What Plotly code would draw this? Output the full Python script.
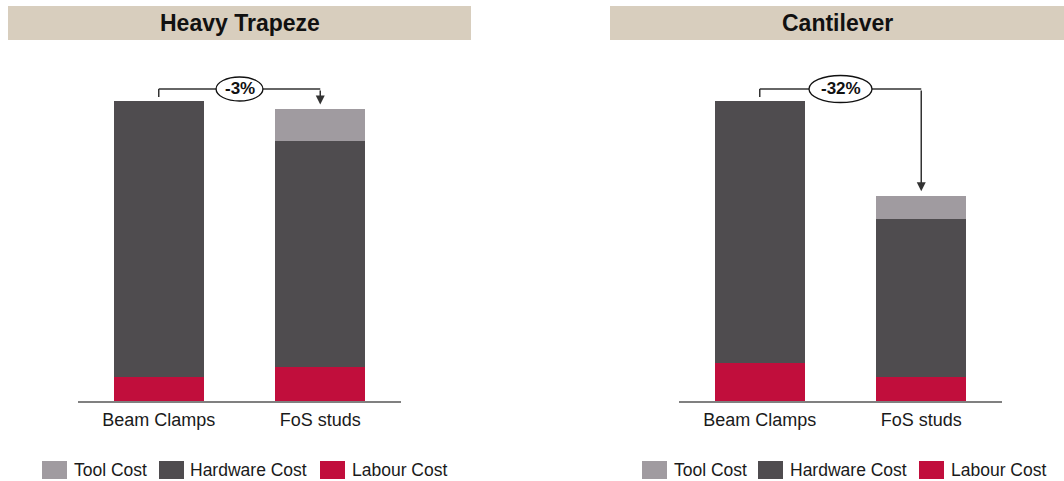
import plotly.graph_objects as go

# ---- data -------------------------------------------------------------
categories = ["Beam Clamps", "FoS studs"]
series_names = ["Tool Cost", "Hardware Cost", "Labour Cost"]
series_colors = ["#a09ba0", "#4f4c4f", "#c10e3c"]
panel_titles = ["Heavy Trapeze", "Cantilever"]

# indexed cost, Beam Clamps total = 100
trapeze_tool = [0.0, 10.7]
trapeze_hardware = [92.0, 75.3]
trapeze_labour = [8.0, 11.3]

cantilever_tool = [0.0, 7.7]
cantilever_hardware = [87.3, 52.7]
cantilever_labour = [12.7, 8.0]

# ---- layout helpers ----------------------------------------------------
W, H = 1064, 481
FONT = "Liberation Sans, Arial, sans-serif"
LINE = "#333333"


def fx(p):
    return p / W


def fy(p):
    return 1 - p / H


panels = [
    dict(title=panel_titles[0], tool=trapeze_tool, hw=trapeze_hardware,
         lab=trapeze_labour, xa="x", ya="y", dom=(78, 401),
         band=(8, 471), legend_sq=(42, 159, 320), legend_tx=(72, 188, 350)),
    dict(title=panel_titles[1], tool=cantilever_tool, hw=cantilever_hardware,
         lab=cantilever_labour, xa="x2", ya="y2", dom=(679, 1002),
         band=(610, 1064), legend_sq=(642, 758, 919), legend_tx=(672, 788, 949)),
]

fig = go.Figure()
shapes = []
annotations = []

for p in panels:
    stacks = [p["lab"], p["hw"], p["tool"]]
    names = [series_names[2], series_names[1], series_names[0]]
    colors = [series_colors[2], series_colors[1], series_colors[0]]
    for vals, name, col in zip(stacks, names, colors):
        fig.add_trace(go.Bar(
            x=categories, y=vals, name=name, xaxis=p["xa"], yaxis=p["ya"],
            marker=dict(color=col, line=dict(width=0)), showlegend=False,
            hoverinfo="skip",
        ))

    totals = [a + b + c for a, b, c in zip(p["lab"], p["hw"], p["tool"])]
    change = round((totals[1] / totals[0] - 1) * 100)
    bracket_y = totals[0] + 4
    xr, yr = p["xa"], p["ya"]

    # bracket: up from the first bar, across, and down onto the second bar
    shapes.append(dict(type="line", xref=xr, yref=yr, x0=0, x1=0,
                       y0=totals[0] + 1.3, y1=bracket_y,
                       line=dict(color=LINE, width=1.5)))
    shapes.append(dict(type="line", xref=xr, yref=yr, x0=0, x1=1,
                       y0=bracket_y, y1=bracket_y,
                       line=dict(color=LINE, width=1.5)))
    annotations.append(dict(
        x=1, y=totals[1] + 1.5, ax=1, ay=bracket_y, xref=xr, yref=yr,
        axref=xr, ayref=yr, text="", showarrow=True, arrowhead=2,
        arrowsize=1.2, arrowwidth=1.5, arrowcolor=LINE, standoff=0,
    ))
    label = f"{change}%"
    half_w = 0.145 if len(label) <= 3 else 0.195
    half_h = 4.0 if len(label) <= 3 else 4.5
    shapes.append(dict(type="circle", xref=xr, yref=yr,
                       x0=0.5 - half_w, x1=0.5 + half_w,
                       y0=bracket_y - half_h, y1=bracket_y + half_h,
                       fillcolor="white", line=dict(color="#111111", width=1.3)))
    annotations.append(dict(x=0.5, y=bracket_y, xref=xr, yref=yr, text=f"<b>{label}</b>",
                            showarrow=False, xanchor="center", yanchor="middle",
                            font=dict(family=FONT, size=17, color="#111111")))

    # header band
    b0, b1 = p["band"]
    shapes.append(dict(type="rect", xref="paper", yref="paper", layer="below",
                       x0=fx(b0), x1=fx(b1), y0=fy(40), y1=fy(6),
                       fillcolor="#d8cebe", line=dict(width=0)))
    annotations.append(dict(x=fx((b0 + b1) / 2), y=fy(23), xref="paper", yref="paper",
                            text=f"<b>{p['title']}</b>", showarrow=False,
                            xanchor="center", yanchor="middle",
                            font=dict(family=FONT, size=23, color="#111111")))

    # legend
    for sq, tx, name, col in zip(p["legend_sq"], p["legend_tx"], series_names, series_colors):
        shapes.append(dict(type="rect", xref="paper", yref="paper",
                           x0=fx(sq), x1=fx(sq + 25), y0=fy(479), y1=fy(461),
                           fillcolor=col, line=dict(width=0)))
        annotations.append(dict(x=fx(tx), y=fy(470), xref="paper", yref="paper",
                                text=name, showarrow=False, xanchor="left",
                                yanchor="middle",
                                font=dict(family=FONT, size=17.5, color="#1a1a1a")))

axis_common = dict(
    showgrid=False, zeroline=False, ticks="", showline=True,
    linecolor="#808080", linewidth=1.5, range=[-0.5, 1.5],
    tickfont=dict(family=FONT, size=18, color="#1a1a1a"), fixedrange=True,
    ticklabelstandoff=2,
)
yaxis_common = dict(range=[0, 120], domain=[80 / H, 440 / H], visible=False,
                    fixedrange=True)

fig.update_layout(
    width=W, height=H, margin=dict(l=0, r=0, t=0, b=0),
    paper_bgcolor="white", plot_bgcolor="white",
    barmode="stack", bargap=0.443, showlegend=False,
    xaxis=dict(domain=[fx(78), fx(401)], anchor="y", **axis_common),
    xaxis2=dict(domain=[fx(679), fx(1002)], anchor="y2", **axis_common),
    yaxis=dict(anchor="x", **yaxis_common),
    yaxis2=dict(anchor="x2", **yaxis_common),
    shapes=shapes, annotations=annotations,
    font=dict(family=FONT),
)

fig.write_html("out.html", config={"displayModeBar": False})
